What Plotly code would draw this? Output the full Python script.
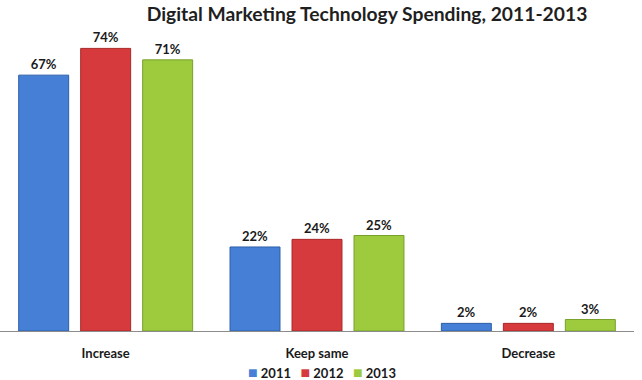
import plotly.graph_objects as go

categories = ["Increase", "Keep same", "Decrease"]
years = ["2011", "2012", "2013"]
values_2011 = [67, 22, 2]
values_2012 = [74, 24, 2]
values_2013 = [71, 25, 3]
series = [values_2011, values_2012, values_2013]
colors = ["#4580d6", "#d63a3c", "#9ecb3e"]
edges = ["#2d5ea8", "#a82828", "#76a02a"]

fig = go.Figure()
for name, vals, c, e in zip(years, series, colors, edges):
    fig.add_trace(go.Bar(
        x=categories, y=vals, name=name,
        marker=dict(color=c, line=dict(color=e, width=1)),
        text=[f"{v}%" for v in vals], textposition="outside",
        textfont=dict(family="Lato", size=13, color="#1a1a1a", weight="bold"),
        cliponaxis=False,
    ))

legend_text = "   ".join(
    f"<span style='color:{c};font-size:16px'>■</span> {y}" for y, c in zip(years, colors)
)

fig.update_layout(
    width=642, height=380,
    barmode="group", bargap=0.12, bargroupgap=0.194,
    paper_bgcolor="white", plot_bgcolor="white",
    margin=dict(l=0, r=8, t=40, b=49, autoexpand=False),
    title=dict(text="<b>Digital Marketing Technology Spending, 2011-2013</b>",
               x=367 / 642, xref="container", xanchor="center",
               y=0.963, yanchor="middle",
               font=dict(family="Lato", size=19.3, color="#1f1f1f")),
    xaxis=dict(showline=True, linecolor="#8c8c8c", linewidth=1, ticks="",
               automargin=False, ticklabelstandoff=10,
               tickfont=dict(family="Lato", size=13, color="#1a1a1a", weight="bold")),
    yaxis=dict(range=[0, 76.2], visible=False, showgrid=False, automargin=False),
    showlegend=False,
    annotations=[dict(text=legend_text, x=322 / 634, xref="paper", xanchor="center",
                      y=-40 / 291, yref="paper", yanchor="middle", showarrow=False,
                      font=dict(family="Lato", size=13, color="#1a1a1a", weight="bold"))],
)
fig.write_html("out.html", config={"displayModeBar": False},
               post_script="document.body.style.margin='0';")
